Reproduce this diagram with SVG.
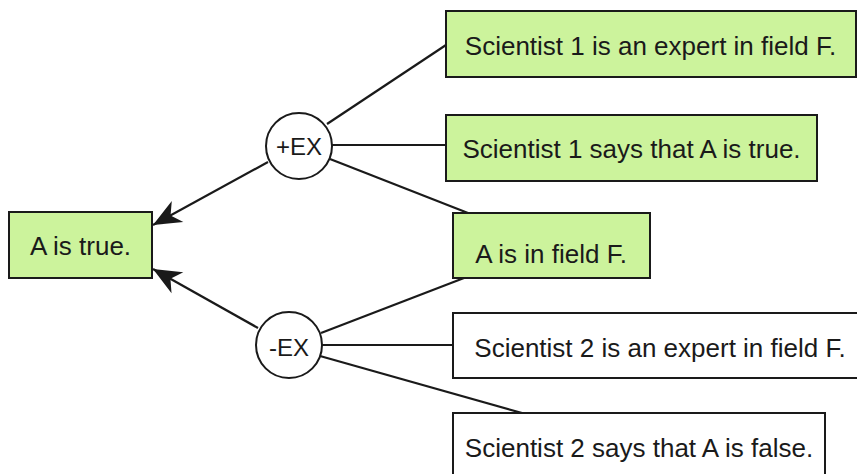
<svg xmlns="http://www.w3.org/2000/svg" width="857" height="474" viewBox="0 0 857 474">
<style>
.box{stroke:#1a1a1a;stroke-width:2}
.g{fill:#ccf39c}
.w{fill:#ffffff}
.c{fill:#ffffff;stroke:#1a1a1a;stroke-width:2}
text{font-family:"Liberation Sans",Arial,sans-serif;font-size:26px;fill:#1a1a1a;text-anchor:middle}
.ct{font-size:24px}
.ln{stroke:#1a1a1a;stroke-width:2.2;fill:none}
</style>
<defs>
<marker id="ah" markerUnits="userSpaceOnUse" markerWidth="32" markerHeight="28" viewBox="-29 -14 31 28" refX="0" refY="0" orient="auto">
<path d="M0,0 L-28,-12 L-20,0 L-28,12 Z" fill="#1a1a1a"/>
</marker>
</defs>
<rect width="857" height="474" fill="#ffffff"/>
<g id="connectors">
<line class="ln" x1="268" y1="162" x2="153" y2="225" marker-end="url(#ah)"/>
<line class="ln" x1="258" y1="328" x2="153" y2="269" marker-end="url(#ah)"/>
<line class="ln" x1="327" y1="124" x2="446" y2="45"/>
<line class="ln" x1="332" y1="145" x2="446" y2="145"/>
<line class="ln" x1="330" y1="159" x2="468" y2="213"/>
<line class="ln" x1="321" y1="333" x2="464" y2="278"/>
<line class="ln" x1="322" y1="345" x2="453" y2="345"/>
<line class="ln" x1="320" y1="356" x2="522" y2="413"/>
</g>
<g id="a-true">
<rect class="box g" x="9" y="212" width="143" height="66"/>
<text x="80.5" y="255">A is true.</text>
</g>
<g id="plus-ex">
<circle class="c" cx="299" cy="146" r="33"/>
<text class="ct" x="299" y="154.5">+EX</text>
</g>
<g id="minus-ex">
<circle class="c" cx="289" cy="345" r="33"/>
<text class="ct" x="289" y="355.5">-EX</text>
</g>
<g id="s1-expert">
<rect class="box g" x="446" y="11" width="410" height="66"/>
<text x="650.5" y="54.5">Scientist 1 is an expert in field F.</text>
</g>
<g id="s1-says">
<rect class="box g" x="446" y="115" width="371" height="66"/>
<text x="631.5" y="158">Scientist 1 says that A is true.</text>
</g>
<g id="a-in-field">
<rect class="box g" x="453" y="213" width="197" height="65"/>
<text x="551" y="263">A is in field F.</text>
</g>
<g id="s2-expert">
<rect class="box w" x="453" y="313" width="416" height="65"/>
<text x="660" y="357">Scientist 2 is an expert in field F.</text>
</g>
<g id="s2-says">
<rect class="box w" x="453" y="413" width="372" height="66"/>
<text x="639" y="457">Scientist 2 says that A is false.</text>
</g>
</svg>
